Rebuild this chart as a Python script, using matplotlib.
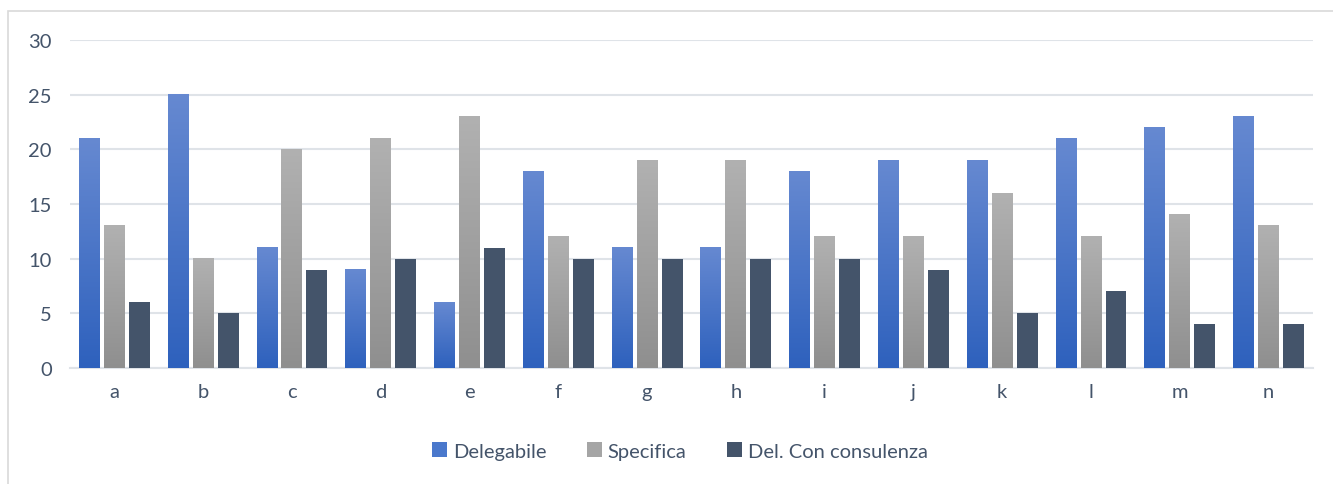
import numpy as np
import matplotlib.pyplot as plt
from matplotlib.patches import Rectangle, Patch
from matplotlib.colors import LinearSegmentedColormap

plt.rcParams['font.family'] = ['Lato', 'DejaVu Sans']

categories = ['a', 'b', 'c', 'd', 'e', 'f', 'g', 'h', 'i', 'j', 'k', 'l', 'm', 'n']
delegabile = [21, 25, 11, 9, 6, 18, 11, 11, 18, 19, 19, 21, 22, 23]
specifica = [13, 10, 20, 21, 23, 12, 19, 19, 12, 12, 16, 12, 14, 13]
del_consulenza = [6, 5, 9, 10, 11, 10, 10, 10, 10, 9, 5, 7, 4, 4]
series_names = ['Delegabile', 'Specifica', 'Del. Con consulenza']
yticks = [0, 5, 10, 15, 20, 25, 30]

text_col = '#44546a'
grid_col = '#dfe3e8'

# gradient maps (bottom -> top)
cmaps = [
    LinearSegmentedColormap.from_list('blue', ['#2e61bd', '#6689d1']),
    LinearSegmentedColormap.from_list('gray', ['#8f8f8f', '#b1b1b1']),
    None,
]
solid_cols = ['#4472c4', '#a5a5a5', '#44546a']

fig = plt.figure(figsize=(13.33, 4.85), dpi=100)
ax = fig.add_axes([0.0525, 0.2392, 0.9325, 0.6763])

# outer chart frame
fig.patches.append(Rectangle((8 / 1333, -0.1), 1.2, 1 - 12 / 485 + 0.1,
                             transform=fig.transFigure, fill=False,
                             edgecolor='#d9d9d9', linewidth=1.2, zorder=0))

x = np.arange(len(categories))
w = 0.236
gap = 0.045
offsets = [-(w + gap), 0, (w + gap)]
grad = np.linspace(0, 1, 256).reshape(-1, 1)

for vals, off, cm, col in zip([delegabile, specifica, del_consulenza], offsets, cmaps, solid_cols):
    for xi, v in zip(x, vals):
        left = xi + off - w / 2
        if cm is None:
            ax.add_patch(Rectangle((left, 0), w, v, facecolor=col, edgecolor='none', zorder=3))
        else:
            ax.imshow(grad, cmap=cm, origin='lower', aspect='auto',
                      extent=(left, left + w, 0, v), zorder=3, interpolation='bilinear')

ax.set_xlim(-0.5, len(categories) - 0.5)
ax.set_ylim(0, 30)
ax.set_xticks(x)
ax.set_xticklabels(categories)
ax.set_yticks(yticks)
ax.tick_params(axis='both', length=0, labelsize=14.5, labelcolor=text_col)
ax.tick_params(axis='x', pad=11)
ax.tick_params(axis='y', pad=13)
ax.grid(axis='y', color=grid_col, linewidth=1.5, zorder=0)
ax.set_axisbelow(True)
for s in ['top', 'right', 'left']:
    ax.spines[s].set_visible(False)
ax.spines['bottom'].set_color(grid_col)
ax.spines['bottom'].set_linewidth(1.5)

handles = [Patch(facecolor='#4a78cc'), Patch(facecolor='#a5a5a5'), Patch(facecolor='#44546a')]
leg = fig.legend(handles, series_names, loc='center', bbox_to_anchor=(0.51, 0.068),
                 ncol=3, frameon=False, fontsize=14.5, handlelength=0.75, handleheight=0.75,
                 handletextpad=0.3, columnspacing=2.0)
for t in leg.get_texts():
    t.set_color(text_col)

plt.savefig('out.png', dpi=100)
